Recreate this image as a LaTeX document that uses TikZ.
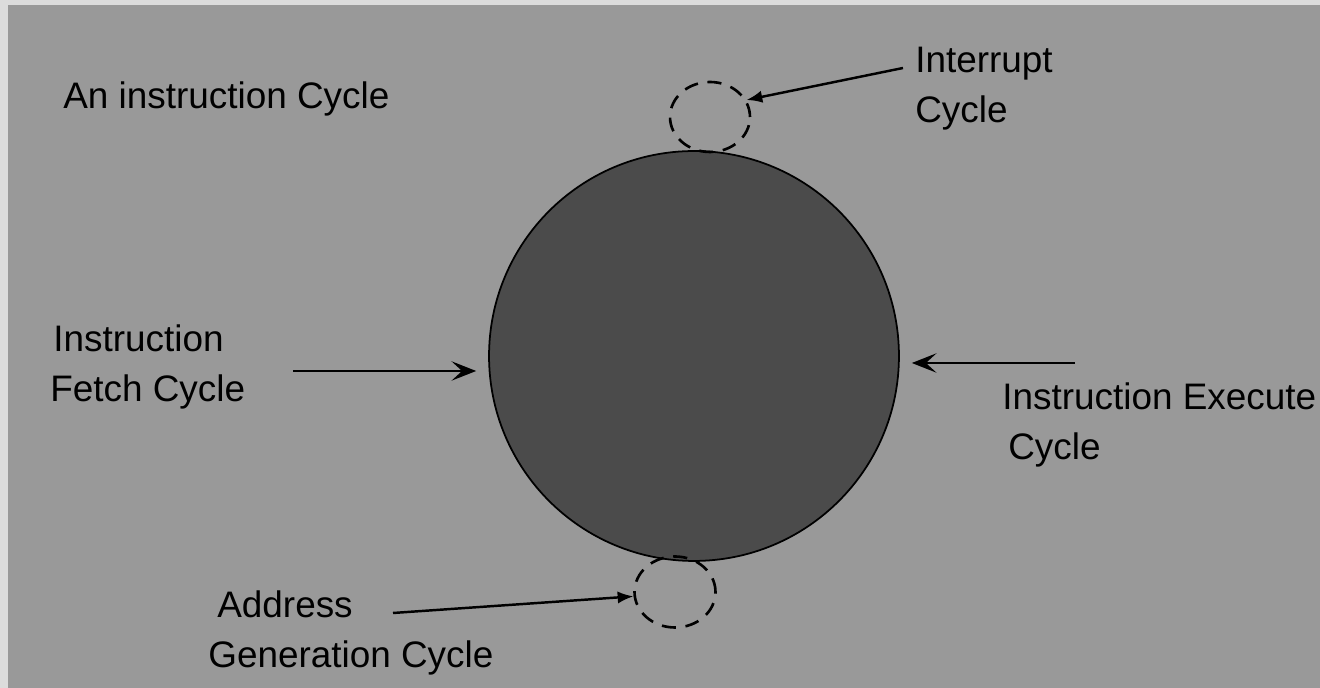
\documentclass[tikz,border=0pt]{standalone}
\usepackage{fontspec}
\setmainfont{Liberation Sans}
\usetikzlibrary{arrows.meta}
\usetikzlibrary{shapes.geometric}
\definecolor{slideback}{HTML}{999999}
\definecolor{slideedge}{HTML}{DCDCDC}
\definecolor{discgray}{HTML}{4B4B4B}

\begin{document}
\begin{tikzpicture}[x=0.02cm, y=-0.02cm,
			txt_1/.style   = {anchor=north west, align=left, inner sep=0pt, font=\fontsize{21}{28.5}\selectfont},
			sub_cyc/.style = {draw, ellipse, black, line width=1.5pt, dash pattern=on 8pt off 5.5pt, minimum width=1.6cm, minimum height=1.4cm},
			big_arr/.style = {black, line width=1.3pt, -{Stealth[length=14pt, width=11pt, inset=6pt]}},
			sml_arr/.style = {black, line width=1.4pt, -{Latex[length=9pt, width=7pt]}},]
			
			\useasboundingbox (0,0) rectangle (1320,688);
			\fill[slideedge] (0,0) rectangle (1320,688);
			\fill[slideback] (8,5) rectangle (1320,688);
			
			%% THE CYCLE ITSELF
			\node[circle, draw, black, line width=1pt, fill=discgray, minimum size=8.2cm, inner sep=0pt] (cycle) at (694,356) {};
			\node[sub_cyc] (intr) at (710,117) {};
			\node[sub_cyc, minimum width=1.62cm, minimum height=1.42cm] (addr) at (675,592) {};
			
			%% LABELS
			\node[txt_1] (title) at (63,81) {An instruction Cycle};
			\node[txt_1] (intr_txt) at (915,47) {Interrupt\\Cycle};
			\node[txt_1] (fetch_txt) at (50,324) {\hspace*{0.06cm}Instruction\\Fetch Cycle};
			\node[txt_1] (exec_txt) at (1002,382) {Instruction Execute\\\hspace*{0.12cm}Cycle};
			\node[txt_1] (addr_txt) at (208,590) {\hspace*{0.18cm}Address\\Generation Cycle};
			
			% ARROWS
			\coordinate (intr_tail) at (903,68);
			\coordinate (addr_tail) at (393,613);
			\coordinate (fetch_tail) at (293,371);
			\coordinate (exec_tail) at (1075,363);
			\draw [sml_arr] (intr_tail) -- (intr.25);
			\draw [sml_arr] (addr_tail) -- (addr.186);
			\draw [big_arr, shorten >=0.24cm] (fetch_tail) -- (cycle.west |- fetch_tail);
			\draw [big_arr, shorten >=0.24cm] (exec_tail) -- (cycle.east |- exec_tail);
			\end{tikzpicture}
\end{document}
